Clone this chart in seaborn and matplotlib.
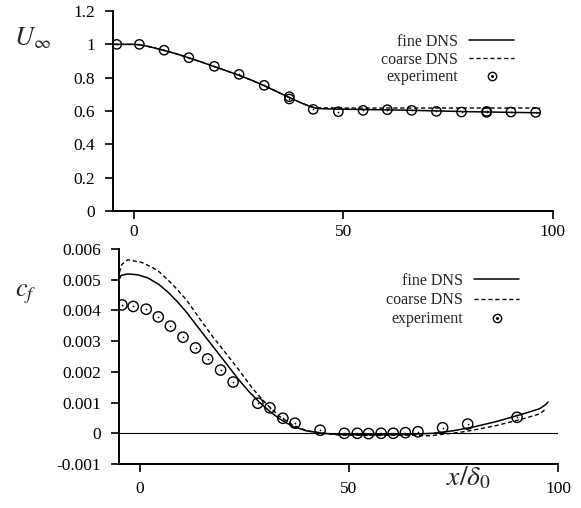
import matplotlib
matplotlib.use("Agg")
import matplotlib.pyplot as plt
import seaborn as sns
import numpy as np
from matplotlib.lines import Line2D

# ---- top panel: free-stream velocity ----
u_fine_x = [-5, -2, 0, 1, 3, 5, 7, 10, 13, 16, 19, 22, 25, 28, 31, 34, 37, 40,
            42, 43, 44, 46, 50, 55, 60, 65, 70, 75, 80, 85, 90, 95, 97]
u_fine_y = [1.0, 1.0, 1.0, 0.998, 0.99, 0.978, 0.965, 0.944, 0.92, 0.895, 0.868,
            0.842, 0.815, 0.786, 0.753, 0.718, 0.682, 0.648, 0.628, 0.62, 0.615,
            0.613, 0.611, 0.609, 0.607, 0.605, 0.602, 0.599, 0.596, 0.594, 0.592,
            0.59, 0.589]
u_coarse_x = [-5, -2, 0, 1, 3, 5, 7, 10, 13, 16, 19, 22, 25, 28, 31, 34, 37, 40,
              42, 43, 44, 50, 60, 70, 80, 90, 97]
u_coarse_y = [1.0, 1.0, 1.0, 0.998, 0.99, 0.978, 0.965, 0.944, 0.92, 0.895, 0.868,
              0.842, 0.815, 0.786, 0.753, 0.718, 0.682, 0.648, 0.628, 0.622, 0.619,
              0.618, 0.618, 0.618, 0.618, 0.618, 0.618]
u_exp_x = [-4.1, 1.3, 7.2, 13.1, 19.2, 25.1, 31.1, 37.1, 37.1, 42.8, 48.8, 54.7,
           60.5, 66.3, 72.2, 78.2, 84.2, 84.2, 90.0, 95.9]
u_exp_y = [1.0, 1.0, 0.965, 0.92, 0.868, 0.82, 0.754, 0.686, 0.672, 0.61, 0.596,
           0.604, 0.608, 0.604, 0.598, 0.594, 0.598, 0.592, 0.594, 0.592]

# ---- bottom panel: skin friction (values in units of 1e-3) ----
cf_fine_x = [-4.9, -4.5, -2.9, -0.5, 1.9, 4.5, 6.7, 9.0, 11.1, 14.2, 17.4, 20.6,
             23.8, 26.2, 28.6, 31.0, 33.4, 36.6, 39.8, 43.7, 47.7, 55.7, 63.7,
             70.0, 74.8, 79.6, 85.2, 91.6, 95.6, 97.2, 97.6]
cf_fine_y = [5.03, 5.14, 5.19, 5.16, 5.06, 4.85, 4.60, 4.28, 3.95, 3.40, 2.84, 2.28,
             1.72, 1.34, 1.01, 0.72, 0.47, 0.22, 0.08, 0.0, -0.04, -0.05, -0.04,
             0.0, 0.08, 0.20, 0.38, 0.63, 0.80, 0.95, 1.02]
cf_coarse_x = [-4.9, -4.3, -2.9, 0.3, 3.0, 4.7, 7.8, 11.1, 14.2, 17.4, 20.6, 23.8,
               27.0, 30.2, 33.4, 36.6, 40.0, 44.0, 48.0, 56.0, 64.0, 69.3, 73.3,
               76.5, 79.6, 85.2, 91.6, 95.6, 97.2]
cf_coarse_y = [5.24, 5.50, 5.65, 5.57, 5.40, 5.25, 4.85, 4.35, 3.75, 3.15, 2.60,
               2.04, 1.45, 0.96, 0.55, 0.27, 0.08, 0.0, -0.06, -0.07, -0.06, -0.08,
               -0.02, 0.03, 0.10, 0.25, 0.47, 0.63, 0.80]
cf_exp_x = [-4.3, -1.6, 1.5, 4.4, 7.3, 10.3, 13.3, 16.2, 19.3, 22.3, 28.2, 31.1,
            34.2, 37.1, 43.1, 48.9, 52.0, 54.7, 57.7, 60.6, 63.5, 66.5, 72.4, 78.4,
            90.2]
cf_exp_y = [4.18, 4.13, 4.04, 3.79, 3.49, 3.13, 2.78, 2.42, 2.06, 1.67, 0.98, 0.83,
            0.49, 0.33, 0.10, 0.0, 0.0, -0.01, 0.0, 0.0, 0.02, 0.05, 0.18, 0.30,
            0.52]

x_ticks = [0, 50, 100]
u_ticks = [0, 0.2, 0.4, 0.6, 0.8, 1.0, 1.2]
u_tick_labels = ["0", "0.2", "0.4", "0.6", "0.8", "1", "1.2"]
cf_ticks = [-0.001, 0, 0.001, 0.002, 0.003, 0.004, 0.005, 0.006]
cf_tick_labels = ["-0.001", "0", "0.001", "0.002", "0.003", "0.004", "0.005", "0.006"]
legend_labels = ["fine DNS", "coarse DNS", "experiment"]

sns.set_style("ticks")
plt.rcParams["font.family"] = ["Liberation Serif", "DejaVu Serif"]
plt.rcParams["mathtext.fontset"] = "stix"

fig = plt.figure(figsize=(5.81, 5.08), dpi=100)
ax1 = fig.add_axes([0.1945, 0.5846, 0.757, 0.3937])
ax2 = fig.add_axes([0.2048, 0.0866, 0.7556, 0.4232])

dash = (0, (3, 2))


def draw_exp(ax, x, y, size):
    sns.scatterplot(x=x, y=y, ax=ax, marker="o", s=size, facecolor="none",
                    edgecolor="black", linewidth=1.0, zorder=3)
    sns.scatterplot(x=x, y=y, ax=ax, marker="o", s=1.5, color="black",
                    linewidth=0, zorder=4)


# top panel
sns.lineplot(x=u_fine_x, y=u_fine_y, ax=ax1, color="black", lw=1.1, sort=False)
sns.lineplot(x=u_coarse_x, y=u_coarse_y, ax=ax1, color="black", lw=1.0,
             ls=dash, sort=False)
draw_exp(ax1, u_exp_x, u_exp_y, 45)

# bottom panel
cf_fine = np.array(cf_fine_y) * 1e-3
cf_coarse = np.array(cf_coarse_y) * 1e-3
cf_exp = np.array(cf_exp_y) * 1e-3
ax2.axhline(0, color="black", lw=0.8, zorder=1)
sns.lineplot(x=cf_fine_x, y=cf_fine, ax=ax2, color="black", lw=1.1, sort=False)
sns.lineplot(x=cf_coarse_x, y=cf_coarse, ax=ax2, color="black", lw=1.0,
             ls=dash, sort=False)
draw_exp(ax2, cf_exp_x, cf_exp, 55)

for ax in (ax1, ax2):
    sns.despine(ax=ax)
    ax.set_xlim(-5, 100)
    ax.set_xticks(x_ticks)
    ax.set_xticklabels([str(t) for t in x_ticks])
    ax.tick_params(axis="both", direction="out", length=6, width=1.2,
                   labelsize=12.5, colors="black")
    ax.tick_params(axis="y", pad=7)
    for s in ("left", "bottom"):
        ax.spines[s].set_linewidth(1.4)
        ax.spines[s].set_color("black")
    ax.set_xlabel("")
    ax.set_ylabel("")

ax1.tick_params(axis="x", pad=3)
ax2.tick_params(axis="x", pad=6)

ax1.set_ylim(0, 1.2)
ax1.set_yticks(u_ticks)
ax1.set_yticklabels(u_tick_labels)
ax2.set_ylim(-0.001, 0.006)
ax2.set_yticks(cf_ticks)
ax2.set_yticklabels(cf_tick_labels)

# legends
h_fine = Line2D([], [], color="black", lw=1.1)
h_coarse = Line2D([], [], color="black", lw=1.0, ls=dash)
h_circ = Line2D([], [], ls="none", marker="o", ms=6, mfc="none", mec="black", mew=1.0)
h_dot = Line2D([], [], ls="none", marker="o", ms=1.2, color="black")
handles = [h_fine, h_coarse, (h_circ, h_dot)]

for ax, anchor, sp in ((ax1, (514 / 581, 1 - 34 / 508), 0.1),
                       (ax2, (519 / 581, 1 - 273 / 508), 0.2)):
    ax.legend(handles, legend_labels, loc="upper right", bbox_to_anchor=anchor,
              bbox_transform=fig.transFigure, frameon=False, markerfirst=False,
              fontsize=11.5, handlelength=2.8, handletextpad=0.7, labelspacing=sp,
              borderpad=0, borderaxespad=0)

fig.text(32 / 581, 1 - 38 / 508, r"$U_\infty$", fontsize=19, ha="center", va="center")
fig.text(26 / 581, 1 - 294 / 508, r"$c_f$", fontsize=19, ha="center", va="center")
fig.text(468 / 581, 1 - 478 / 508, r"$x/\delta_0$", fontsize=20, ha="center", va="center")

fig.savefig("out.png", dpi=100)
